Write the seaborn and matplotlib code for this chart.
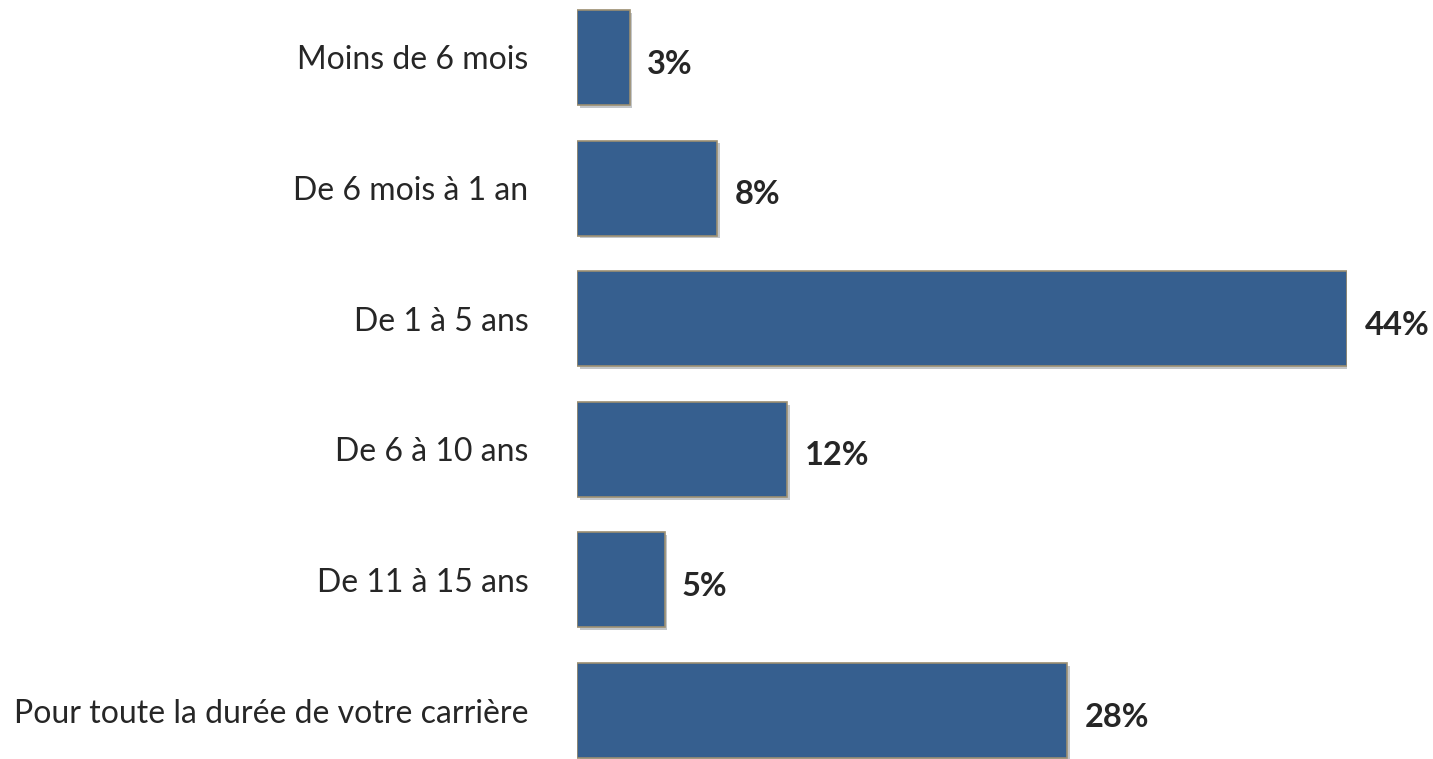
import matplotlib
matplotlib.use('Agg')
import matplotlib.pyplot as plt
import matplotlib.patheffects as pe
import seaborn as sns
import pandas as pd

# ===================== 数据 =====================
categories = [
    'Moins de 6 mois',
    'De 6 mois à 1 an',
    'De 1 à 5 ans',
    'De 6 à 10 ans',
    'De 11 à 15 ans',
    'Pour toute la durée de votre carrière',
]
values = [3, 8, 44, 12, 5, 28]

df = pd.DataFrame({'cat': categories, 'pct': values})

sns.set_theme(style='white')
plt.rcParams['font.family'] = ['Lato', 'DejaVu Sans']

fig = plt.figure(figsize=(14.33, 7.59), dpi=100)
ax = fig.add_axes([577 / 1433, 0, (1347 - 577) / 1433, 1])

sns.barplot(data=df, x='pct', y='cat', orient='h', color='#365F8F',
            saturation=1, width=0.727, edgecolor='#9C8F72', linewidth=1.2, ax=ax)

# 阴影效果
for p in ax.patches:
    p.set_path_effects([pe.SimplePatchShadow(offset=(2, -2), alpha=0.25), pe.Normal()])

for i, v in enumerate(values):
    ax.text(v + 1.0, i + 0.05, f'{v}%', va='center', ha='left',
            fontsize=23.5, fontweight='bold', color='#262626')

ax.set_xlim(0, 44)
ax.set_ylim(5.371, -0.44)
ax.set_xlabel('')
ax.set_ylabel('')
ax.set_xticks([])
ax.tick_params(axis='y', length=0, pad=35, labelsize=23, labelcolor='#262626')
for s in ax.spines.values():
    s.set_visible(False)
ax.patch.set_alpha(0)

fig.savefig('out.png', dpi=100)
plt.close(fig)
